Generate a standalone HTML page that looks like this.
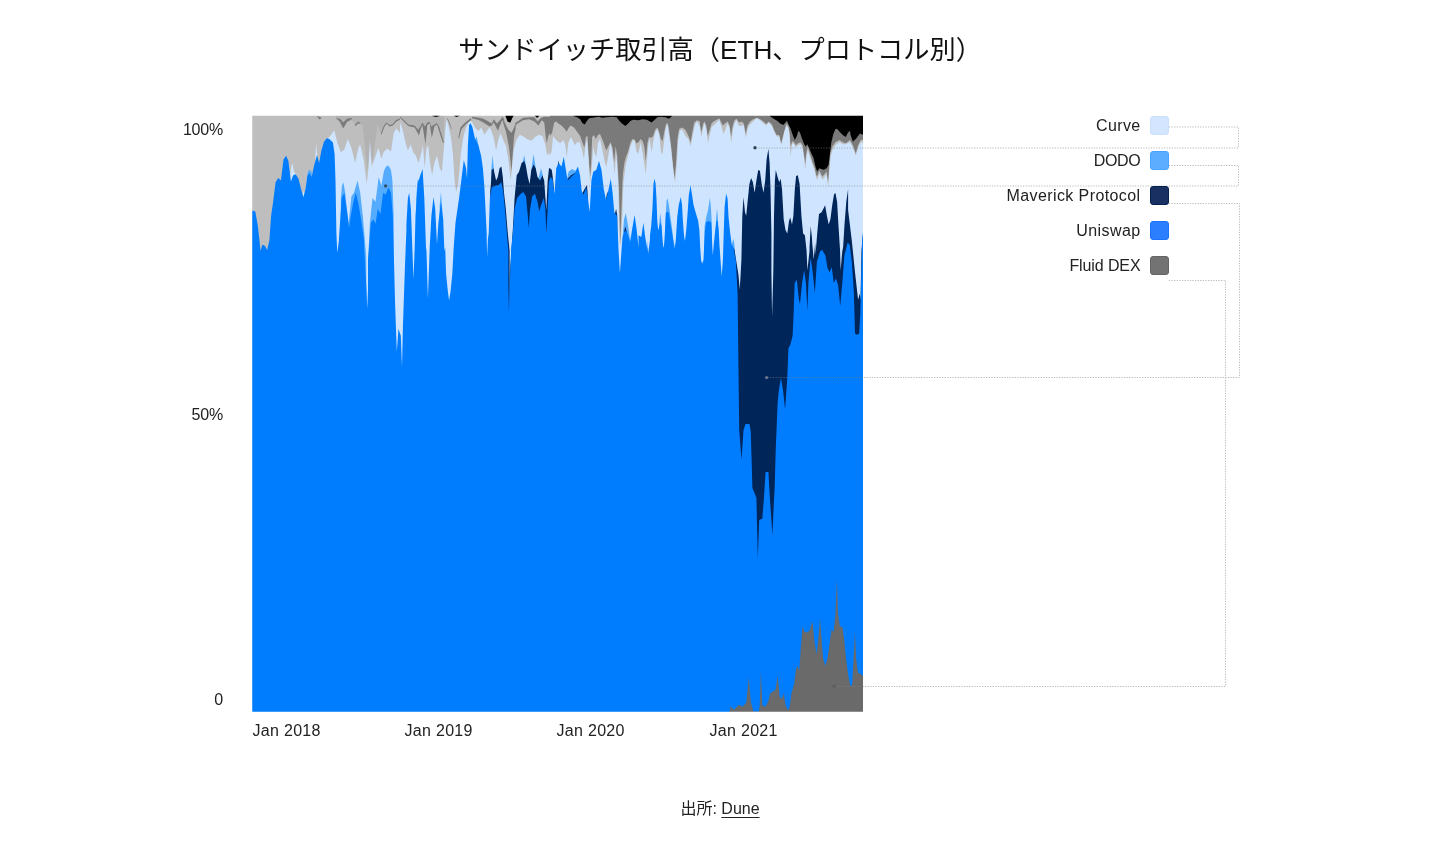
<!DOCTYPE html>
<html lang="ja">
<head>
<meta charset="utf-8">
<title>サンドイッチ取引高（ETH、プロトコル別）</title>
<style>
html,body{margin:0;padding:0;background:#fff;}
body{width:1440px;height:851px;position:relative;overflow:hidden;font-family:"Liberation Sans","Noto Sans CJK JP",sans-serif;color:#1a1a1a;}
.title{position:absolute;left:8px;top:31.5px;width:1424px;text-align:center;font-size:26.2px;line-height:36px;color:#111;white-space:nowrap;}
.ylab{position:absolute;left:150px;width:73px;margin-top:0.5px;letter-spacing:-0.2px;text-align:right;font-size:16px;line-height:20px;color:#222;}
.xlab{position:absolute;top:720.8px;margin-left:0.5px;letter-spacing:0.3px;font-size:16px;line-height:20px;color:#222;white-space:nowrap;}
.leg{position:absolute;left:940.5px;width:200px;margin-top:1.2px;text-align:right;letter-spacing:0.35px;font-size:16px;line-height:20px;color:#222;white-space:nowrap;}
.sw{position:absolute;left:1150px;width:19px;height:19px;border-radius:3px;box-sizing:border-box;border:1px solid;}
.src{position:absolute;left:0;top:799.3px;width:1440px;text-align:center;font-size:16px;line-height:20px;color:#222;}
.src a{color:#222;text-decoration:underline;text-underline-offset:3px;}
svg{position:absolute;left:0;top:0;}
</style>
</head>
<body>
<div class="title">サンドイッチ取引高（ETH、プロトコル別）</div>
<svg width="1440" height="851" viewBox="0 0 1440 851" shape-rendering="auto">
<g>
<rect x="252" y="115" width="611" height="597" fill="#bebebe"/>
<path d="M334.9,115L334.9,116L338.5,119.3L341.7,127.6L343.8,128.7L346.9,122.4L352.1,120.3L355.2,125.5L358.3,122.4L362.5,125.5L364.6,143.2L367.2,170.3L369.8,153.7L372.4,162L375,143.2L377.6,124.5L380.7,133.9L384.4,126.6L387.5,123.5L390.6,126.6L395.8,121.4L400,118.2L400,116.7L404.2,120.3L408.3,124.5L414.6,125.5L418.2,129.7L420.8,125.5L422.4,122.4L425,126.6L427.3,122.4L429.7,121.9L431.2,126.6L434.4,124.5L437,122.9L439.1,126.6L441.7,134.9L443.8,142.2L444.3,118.2L444.3,115Z" fill="#b2b2b2"/>
<path d="M550,115L550,136L552.1,132.8L554.2,122.4L556.2,121.4L558.3,123.5L561.5,125.5L564.6,128.7L566.7,131.8L568.8,127.6L570.8,125.5L574,127.6L577.1,131.8L580.2,136L582.3,142.2L584.4,147.4L585.9,137L587.5,136L588.5,153.7L590.1,176.6L591.1,164.1L592.2,137L593.8,134.9L595.8,139.1L597.9,134.9L600,133.9L603.1,141.2L606.2,150.5L608.3,146.4L610.4,142.2L612.5,147.4L614.1,162L615.6,146.4L617.2,155.8L618.2,174.5L619,187L620.2,244L622.4,182.8L622.9,174.5L624.5,162L626,156.8L628.1,151.6L630.2,143.2L632.3,139.1L634.4,139.6L636.5,143.2L638.5,142.2L640.6,139.1L642.7,141.2L644.3,146.4L645.8,161L647.4,143.2L649,137L651,138L653.1,136L655.2,129.7L657.3,127.6L659.4,132.8L660.9,139.1L662.5,141.2L664.1,132.8L665.6,125.5L667.2,122.4L668.8,127.6L670.8,143.2L672.9,164.1L674.5,178.7L676,164.1L677.6,138L679.2,128.7L682.3,127.6L685.4,129.7L688.5,136L690.6,142.2L692.2,132.8L694.3,122.4L696.9,120.3L700,121.4L700,125.5L701.6,131.8L703.1,123.5L704.7,121.4L706.2,125.5L707.8,136L709.4,130.8L711.5,123.5L713.5,121.4L716.7,119.8L719.3,118.2L720.8,121.4L722.9,125.5L725,123.5L727.6,121.4L729.7,125.5L731,137L732.3,127.6L734.4,120.3L736.5,118.8L739.1,122.4L741.7,121.4L743.8,123.5L745.8,133.9L747.4,125.5L750,121.4L753.1,119.3L756.8,117.7L759.4,118.8L762.5,120.8L766.1,124L768.8,121.4L771.9,124.5L774,129.7L776.6,134.9L779.2,134.9L781.2,143.2L782.8,137L784.4,130.8L786.5,123.5L788.5,126.6L789.6,132.8L790.6,146.4L792.2,141.2L794.3,142.2L795.8,145.3L797.9,143.2L800.5,142.2L802.6,145.3L804.2,155.8L805.2,164.1L806.2,153.7L807.8,146.4L809.9,153.7L812.5,162L814.6,167.2L816.1,174.5L817.2,176.6L819.3,170.3L822.4,176.6L825,173.5L826.6,171.4L828.1,182.8L829.2,166.2L830.2,153.7L832.3,146.4L835.4,142.2L839.6,140.1L842.7,142.2L845.8,143.2L850,140.1L852.9,145.2L855.8,153.5L858.1,145.2L861.1,139.4L863,140.6L863,115Z" fill="#7a7a7a"/>
<path d="M335.9,117.7L340.6,119.3L343.2,122.4L346.9,118.8L351.6,118.0L351.9,119.1L346.9,121.9L343.2,128.2L339.8,121.4L336.5,118.8Z" fill="#7a7a7a"/>
<path d="M354.7,125.0L358.3,121.4L360.2,122.9L360.2,123.7L358.3,123.5L355.4,126.1Z" fill="#7a7a7a"/>
<path d="M380.7,133.9L383.9,125.5L386.5,122.4L389.6,125.0L392.7,124.3L395.8,120.3L400.0,118.5L400.0,119.8L396.4,121.4L392.9,125.5L389.6,126.4L386.7,123.7L384.6,126.6L381.5,134.4Z" fill="#7a7a7a"/>
<path d="M316.7,116.2L319.3,116.7L321.4,117.7L321.4,118.2L319.6,119.5L317.2,116.7Z" fill="#7a7a7a"/>
<path d="M400.0,116.7L404.2,120.3L408.3,124.5L414.6,125.5L418.2,129.7L420.8,125.5L422.4,122.4L425.0,126.6L427.3,122.4L429.7,121.9L431.2,126.6L434.4,124.5L437.0,122.9L439.1,126.6L441.7,134.9L443.8,142.2L443.8,143.2L442.7,142.2L439.6,132.8L437.0,124.5L434.4,126.6L431.8,138.0L429.7,123.5L427.3,125.0L425.5,144.3L422.4,125.0L420.8,128.7L419.0,135.4L414.6,127.6L408.3,126.1L404.2,121.9L400.0,117.7Z" fill="#7a7a7a"/>
<path d="M446.9,118.5L449.0,122.9L451.2,128.7L451.8,129.2L450.0,123.5L447.7,118.5Z" fill="#7a7a7a"/>
<path d="M458.3,138.0L460.4,127.6L464.6,122.9L470.8,118.2L471.4,119.8L465.6,124.5L461.5,129.2L459.0,138.6Z" fill="#7a7a7a"/>
<path d="M471.9,116.7L479.2,117.7L483.3,118.8L488.5,121.4L491.7,123.5L493.8,119.3L496.9,123.5L500.0,120.3L502.6,116.7L504.2,119.3L501.6,121.4L497.9,130.8L493.8,122.4L491.7,125.5L489.6,126.6L483.3,122.4L479.2,120.3L471.9,118.2Z" fill="#7a7a7a"/>
<path d="M503.1,118.2L505.2,123.5L508.3,129.7L511.5,132.8L514.1,127.6L515.6,122.4L515.6,128.7L514.1,136.0L512.7,153.7L511.5,171.9L510.6,162.0L508.9,146.4L506.2,132.8L503.1,122.4Z" fill="#7a7a7a"/>
<path d="M515.6,122.4L517.7,121.4L522.9,117.7L529.2,117.2L534.4,117.2L537.5,121.4L540.6,118.2L543.8,116.7L550.0,116.7L550.0,132.8L548.4,136.0L546.7,143.2L545.3,132.8L544.3,122.4L541.7,120.3L538.5,125.5L534.4,121.4L529.2,119.3L522.9,120.3L517.7,123.5L515.6,125.5Z" fill="#7a7a7a"/>
<path d="M432.3,115L432.3,116L435.9,117L439.6,116L439.6,115Z" fill="#000000"/>
<path d="M453.8,115L453.8,115.8L456.4,117L459.9,115.8L459.9,115Z" fill="#000000"/>
<path d="M505.4,115L505.4,115.8L507.5,121.5L510.2,122.7L512.8,117L513.7,115.8L513.7,115Z" fill="#000000"/>
<path d="M534.9,115L534.9,115.8L537.1,117.9L539.3,115.8L539.3,115Z" fill="#000000"/>
<path d="M573.4,115L573.4,116L577.1,117.2L580.2,119.3L582.3,122.9L584.9,124.5L586.5,121.4L589.1,118.2L595.8,117.2L599,116.7L602.1,117.7L606.2,117.2L612.5,116.7L616.7,117.2L618.8,120.3L621.9,123.5L625.5,126.1L628.1,123.5L630.7,120.8L633.3,119.8L638.5,120.3L642.7,119.3L646.9,119.8L651.6,122.4L654.2,120.3L657.3,117.2L660.4,116.7L665.6,117.2L668.8,118.8L671.4,116.7L671.9,116L671.9,115Z" fill="#000000"/>
<path d="M769.8,115L769.8,116L772.9,118.2L777.1,120.8L780.2,123.5L783.3,125L785.4,122.4L787,120.8L788.5,124.5L790.6,128.7L792.7,134.9L794.8,140.1L796.9,136L798.4,130.8L800,132.8L802.1,139.1L804.2,144.3L805.7,146.4L807.3,144.3L808.9,147.4L811.5,153.7L813.5,157.8L815.6,167.2L817.2,171.4L819.3,168.2L821.9,169.3L824,169.8L826.6,168.2L828.6,165.1L829.7,155.8L831.2,143.2L833.3,133.9L835.4,129.2L837,128.7L839.6,131.8L842.7,134.9L845.8,137L847.9,132.8L850,130.8L850.5,134.7L852.9,141.7L856.4,138.2L859.9,133.5L863,134.7L863,115Z" fill="#000000"/>
<path d="M289.7,712L289.7,184L290.9,168.2L292.3,162.9L294.1,171.7L296.7,175.2L296.7,712Z" fill="#cfe5ff"/>
<path d="M302,712L302,198.1L303.2,191.1L304.6,192.8L304.6,712Z" fill="#cfe5ff"/>
<path d="M314.9,712L314.9,164.6L316.1,143.5L317.3,154.9L317.3,712Z" fill="#cfe5ff"/>
<path d="M327.6,712L327.6,139.1L331.1,134.7L334.3,130.3L337.3,142.6L340.8,152.3L344.3,149.7L347.8,139.1L351.4,147.9L355.2,162.9L358.4,147.9L360.2,144.4L363.7,159.4L366.7,184L368.5,168.2L369.9,140L371.6,166.4L375.1,157.6L378.3,147.9L381.3,158.5L384,151.4L387.5,148.8L391,151.4L393.7,132.9L396.3,128.5L400,132.9L400,122.3L402.6,129.4L405.3,141.7L407.9,150.5L410.6,144.4L413.2,152.3L415.9,155.8L418.5,162.9L421.1,154.1L422.9,145.2L424.7,168.2L426.4,148.8L428.2,145.2L430,162.9L432.1,175.2L434.4,162.9L437,155.8L439.7,168.2L441.9,171.7L444.1,145.2L445.5,127.6L446.7,118.8L448.5,125.9L451.1,138.2L452.9,154.1L454.6,180.5L456.1,192L458.2,184L460.8,154.1L463.5,136.4L466.1,127.6L468.8,122.3L470.5,120.9L472.3,122.3L474.9,127.6L478.4,131.2L481.1,127.6L484.6,134.7L487.3,130.3L489.9,127.6L493.4,136.4L496.1,150.5L497.8,141.7L500.5,132.9L503.1,140L505.8,145.2L508.4,159.4L510.7,180.5L511.9,168.2L513.7,150.5L516.3,140L519.9,134.7L523.4,136.4L526.9,139.1L531.3,140.8L535.7,136.4L539.3,134.7L542.8,136.4L545.4,145.2L547.2,155.8L549,152.3L550,155.8L551.6,151.6L553.1,136L555.2,139.1L557.3,141.2L560.4,143.2L563.5,140.1L565.6,146.4L566.7,157.8L568.2,143.2L570.8,137L572.9,141.2L575,145.3L577.1,142.2L579.7,142.2L582.3,151.6L583.9,158.9L585.4,146.4L587,139.1L588.5,158.9L590.1,182.8L591.7,168.2L593.2,146.4L594.8,153.7L596.4,156.8L597.9,143.2L600,139.1L602.1,148.5L604.2,158.9L606.2,167.2L608.3,155.8L610.4,143.2L612.5,153.7L614.6,174.5L616.1,153.7L617.2,166.2L618.2,184.9L619.6,242.2L620.5,245.7L622.3,215.8L623.4,182.8L624,178.7L625.5,166.2L627.6,157.8L630.2,147.4L632.3,141.2L634.4,140.1L636.5,151.6L638.5,153.7L640.6,142.2L642.7,153.7L644.3,164.1L645.8,174.5L647.9,148.5L649.5,138L651.6,152.6L653.1,142.2L655.2,132.8L657.3,128.7L659.4,136L660.9,151.6L662.5,154.7L664.1,141.2L665.6,129.7L667.2,123.5L668.8,133.9L670.8,146.4L672.9,167.2L675,182.8L676.6,166.2L678.1,141.2L679.7,130.8L682.3,129.7L685.4,136L688.5,139.1L690.6,146.4L692.7,136L694.8,125.5L696.9,121.4L700,126.6L700,129.7L701.6,137L703.1,127.6L704.7,123.5L706.2,128.7L708.1,143.2L709.9,133.9L711.5,127.6L713.5,125.5L716.7,122.4L719.3,119.8L720.8,124.5L723.4,133.9L725.5,129.7L727.6,123.5L729.7,128.7L731.2,143.2L732.8,130.8L734.4,123.5L736.5,120.3L739.1,126.6L741.7,125.5L743.8,125.5L745.8,138L747.7,128.7L750,124.5L753.1,121.4L756.8,118.2L759.4,119.8L762.5,122.4L766.1,125.5L768.8,122.4L771.9,126.1L774,131.3L776.6,136.5L779.2,136.5L781.2,145.3L782.8,139.1L784.4,131.8L786.5,125.5L788.5,128.7L789.6,136L790.6,156.8L792.2,143.2L794.3,144.3L795.8,147.4L797.9,145.3L800.5,144.3L802.6,148.5L804.2,158.9L805.2,170.3L806.5,156.8L807.8,150.5L809.9,156.8L812.5,165.1L814.6,170.3L816.1,177.6L817.2,179.7L819.3,173.5L822.4,179.7L825,176.6L826.6,174.5L828.1,187L829.4,170.3L830.7,156.8L832.3,150.5L835.4,145.3L839.6,142.2L842.7,144.3L845.8,144.3L850,142.2L852.9,147.6L855.8,155.8L858.1,147.6L861.1,141.7L863,142.9L863,712Z" fill="#cfe5ff"/>
<path d="M306.8,712L306.8,177L308.2,170.8L310.8,169.9L312.6,175.2L312.6,712Z" fill="#55acff"/>
<path d="M340.8,712L340.8,198.1L342,185.8L343.4,182.3L345.2,192.8L346.9,208.7L348.7,222.8L351.4,196.4L354,192.8L357.5,180.5L360.2,192.8L362.8,215.8L365.5,247.5L366.3,260L366.3,712Z" fill="#55acff"/>
<path d="M368.1,712L368.1,260L369.9,222.8L372.5,198.1L375.5,201.7L378.7,177L381.3,185.8L384,170.8L386.1,166.4L388.4,165.5L391,169.9L392.4,180.5L393.7,215.8L393.7,712Z" fill="#55acff"/>
<path d="M416.2,712L416.2,198.1L417.6,179.6L419.4,180.5L419.4,712Z" fill="#55acff"/>
<path d="M439.7,712L439.7,205.2L440.9,192L442.3,208.7L442.3,712Z" fill="#55acff"/>
<path d="M474.9,712L474.9,140L476.7,136.4L478.4,145.2L478.4,712Z" fill="#55acff"/>
<path d="M491.3,712L491.3,169.9L492.5,154.9L493.8,168.2L493.8,712Z" fill="#55acff"/>
<path d="M522.5,712L522.5,162.9L524.3,154.9L526,166.4L526,712Z" fill="#55acff"/>
<path d="M531.3,712L531.3,169.9L533.6,154.1L535.7,168.2L535.7,712Z" fill="#55acff"/>
<path d="M538.4,712L538.4,178.8L541,168.2L542.8,175.2L542.8,712Z" fill="#55acff"/>
<path d="M566.8,712L566.8,180.5L568.5,171.7L572,169.1L575.6,170.8L577.3,168.2L577.3,712Z" fill="#55acff"/>
<path d="M622.6,712L622.6,236.9L624,219.3L625.8,213.1L627.6,222.8L630.2,240.4L631.4,233.4L631.4,712Z" fill="#55acff"/>
<path d="M665.5,712L665.5,218.8L665.9,211.7L666.5,201.1L667.6,198.2L668.8,204.7L670,212.9L671.7,225.8L673.5,239.9L674.9,247L674.9,712Z" fill="#55acff"/>
<path d="M658.9,712L658.9,230.5L659.4,221.1L660.3,212.9L661.3,221.1L661.8,230.5L661.8,712Z" fill="#55acff"/>
<path d="M704.3,712L704.3,235.2L704.6,225.8L706.4,216.4L708.2,209.3L709.9,197.6L710.9,207L711.7,221.1L712,235.2L712,712Z" fill="#55acff"/>
<path d="M715.8,712L715.8,225.8L716.2,216.4L717,208.2L717.8,216.4L718.4,228.2L718.4,712Z" fill="#55acff"/>
<path d="M731.1,712L731.1,247L732,243.4L733.4,238.7L734.4,244.6L735.1,254L735.1,712Z" fill="#55acff"/>
<path d="M490.2,712L490.2,191.1L490.8,185.8L491.7,169.9L493.4,168.2L496.1,180.5L497.8,177L499.6,168.2L501.4,166.4L502.8,177L504,192.8L505.8,208.7L507.5,229.9L509.6,251L509.6,274.1L509.6,312.9L509.9,274.1L512.8,229.9L514.6,198.1L516.7,175.2L519,171.7L521.6,162.9L524.3,161.1L526,166.4L527.8,177L529.6,184L531.3,169.9L533.6,164.6L535.7,168.2L537.5,177L540.1,180.5L542.4,175.2L544.2,180.5L545.4,198.1L546.3,210.5L547.7,180.5L549,168.2L550,168.2L550,168.2L551.8,169.9L553.2,180.5L554.4,194.6L554.4,712Z" fill="#002559"/>
<path d="M557.4,712L557.4,168.2L558.5,160.2L559.5,168.2L559.5,712Z" fill="#002559"/>
<path d="M566.8,712L566.8,184L567.6,178.8L571.1,175.2L575.6,172.6L576.4,177L576.4,712Z" fill="#002559"/>
<path d="M581.7,712L581.7,194.6L584.4,189.3L587,184.9L587.9,198.1L587.9,712Z" fill="#002559"/>
<path d="M605.5,712L605.5,201.7L606.8,194.6L608.2,191.1L608.2,712Z" fill="#002559"/>
<path d="M614.9,712L614.9,214L616.1,208.7L617.3,215.8L617.3,712Z" fill="#002559"/>
<path d="M624,712L624,231.6L625.5,226.3L626.9,233.4L626.9,712Z" fill="#002559"/>
<path d="M732.6,712L732.6,247.5L734.4,249.3L736.1,260L738.5,275L739.7,289.5L740.6,275L741.4,260L742.3,215.8L743.5,197.3L745,212.2L746.2,215.8L747.6,201.7L749.4,184L751.1,177.9L752.9,182.3L754.6,192.8L756.4,180.5L758.2,169.9L759.9,170.8L761.7,184L763.5,192.8L765.2,180.5L766.6,159.4L768.4,148.8L769.6,162.9L770.5,189.3L771.4,233.4L771.4,272.3L772.1,316.7L773.3,272.3L774,215.8L774.9,180.5L775.8,169.9L777.6,177L779.3,182.3L780.7,178.8L782,189.3L783.7,219.3L785.5,229.9L787.3,233.4L789,221.1L790.2,217.5L792,224.6L793.4,215.8L794.8,189.3L796.1,176.1L797.8,175.2L799.6,184L801.4,215.8L803.1,233.4L804.9,235.2L806.6,251L806.6,251.2L807.4,270.2L809.5,251.2L809.5,247.5L810.7,226.3L811.9,236.9L812.2,242.7L813.7,259.6L815.2,242.7L815.5,254.5L817.2,233.4L819,214L821.6,212.2L823.4,208.7L825.1,205.2L826.9,215.8L828.7,224.6L830.4,219.3L832.2,205.2L834,194.6L835.4,192.8L837.1,201.7L838.4,224.6L840.1,251L840.1,251.2L840.6,270.2L842.3,251.2L843.1,247.5L844.5,224.6L846.3,201.7L848.1,189.3L848.1,186.4L848.1,174.6L848.1,178.2L848.1,210L851.8,240.6L855,272.3L858.1,299.8L859.8,293.4L860.5,300L861.5,250L863,233L863,712Z" fill="#002559"/>
<path d="M252,712L252,210.5L255.3,211.4L257.9,226.3L260.6,251L262.3,244.8L265,245.7L267.1,250.1L269.4,240.4L271.1,215.8L272.9,203.4L275.6,182.3L278.2,177.9L280.9,180.5L283.5,159.4L286.1,155.8L288.4,161.1L290.9,181.4L293.2,175.2L295.8,174.3L298.5,178.8L301.1,189.3L303.4,197.3L305.5,189.3L307.3,177L309.1,172.6L311.7,177L314.3,164.6L317,154.9L319.1,162.9L321.4,150.5L324,141.7L326.7,138.2L329.3,139.1L332.9,142.6L334.6,154.1L335.5,180.5L336.4,233.4L337.3,252.8L338.7,242.2L339.9,224.6L341.7,198.1L344.3,192.8L346.6,208.7L349.1,228.1L350.8,215.8L353.1,203.4L355.8,192.8L358.4,203.4L361.1,219.3L363.7,236.9L364.9,260L366.5,290L367.2,309L368,290L368,260L369,247.5L370.8,222.8L373.4,219.3L375.5,223.7L377.8,208.7L380.4,214L383.1,192.8L385.7,194.6L388.4,187.6L391,192.8L392.8,215.8L393.7,251L394.1,265.2L395,300.5L395.9,326.9L396.8,351.6L398.5,328.7L400.8,335.8L402,367.5L402.9,326.9L403.8,300.5L405,265.2L406.4,230L406.4,224.6L407.9,198.1L409.2,192.8L410.9,208.7L412.3,247.5L412.3,247.6L413.5,279.4L414.7,247.6L415.5,215.8L417.6,184L420.3,175.2L422.6,169.1L424.3,198.1L426.1,251L426.4,247.6L427.9,298.8L429.7,247.6L431.4,215.8L433.5,197.3L435.2,208.7L437,244L438.4,222.8L440.9,201.7L443.2,219.3L444.4,251L445.2,247.6L446.1,274.1L447.9,291.7L449.1,300.5L450.5,291.7L452.3,274.1L453.7,247.6L455.5,222.8L459.1,198.1L461.7,177L463.8,160.2L466.1,168.2L467,178.8L467.9,145.2L469.1,125L470.5,123.2L472.3,126.8L474.9,138.2L478.4,145.2L481.1,155.8L482.9,168.2L484.3,185.8L485.5,208.7L486.7,233.4L486.7,238.8L487.2,257.3L487.9,238.8L488.7,233.4L489.9,198.1L491.7,187.6L495.2,185.8L498.7,184.9L501.4,182.3L503.1,191.1L504.9,208.7L506.6,229.9L508.4,251L508.4,247.6L508.4,282.9L508.9,312.9L509.7,282.9L511.3,247.6L512.8,233.4L514.6,208.7L517.2,198.1L520.8,193.7L523.4,192L526,196.4L527.8,215.8L528.7,228.1L530.1,208.7L532.2,196.4L534.9,193.7L537.5,201.7L539.3,211.4L541,205.2L543.7,198.1L545.4,208.7L546.3,233.4L547.7,208.7L549,180.5L550,179.6L550,177L552.6,178.8L554.4,194.6L556.2,168.2L558.8,162.9L561.5,166.4L563.8,156.7L565.9,169.9L567.6,180.5L571.1,177L574.7,173.5L577.9,166.4L580,175.2L581.7,191.1L583.5,194.6L586.1,187.6L587.9,198.1L589.7,212.2L591.4,180.5L593.2,171.7L596.2,169.9L599,161.1L601.5,169.9L603.8,189.3L606,199.9L608.2,191.1L610.8,178.8L612.6,192.8L614.3,212.2L617,215.8L618.4,245.7L618.4,247.6L619.9,273.2L621.7,247.6L622.6,236.9L624.9,229.9L627.6,233.4L630.2,242.2L632,229.9L634.6,214.9L636.7,229.9L638.5,247.5L638.5,235.3L638.5,242.3L638.5,235.3L641.3,236.9L643.4,222.8L645.2,236.9L647.3,249.3L647.3,247.6L647.3,262.6L647.3,247.6L647.3,240.6L648.1,253.8L649.9,240.6L650,235.2L651.2,225.8L652.4,209.3L653.5,183.5L654.5,178.8L655.6,183.5L656.5,198.8L657.3,221.1L658.2,230.5L659.4,225.8L660.3,222.3L661.5,225.8L662.3,236.4L663.2,247L663.6,247.6L664.3,242.3L665,230.5L665.9,212.9L667.6,211.7L668.8,212.9L670,221.1L671.7,230.5L673.5,242.3L674.4,249.3L674.4,249L675.6,242.3L676.1,235.2L677.3,216.4L678.8,204.7L680.8,197L682,204.7L682.9,221.1L684.1,236.4L685,241.1L686.2,230.5L687.6,212.9L688.8,195.2L690.5,185.3L692.1,195.2L693.5,204.7L695.8,212.9L698.2,221.1L699.4,230.5L700.3,249.3L701.1,260L702.1,263.8L703.5,260L704.3,242.3L705,230.5L706.2,222.3L708.8,221.1L711.1,222.3L711.7,230.5L712.3,247L712.8,255.4L713.5,247L714,242.3L715.2,230.5L716.4,221.1L717.6,220.5L718.7,230.5L719.6,247L720.5,260L721.7,276.5L722.9,260L723.8,230.5L724.6,207L726.1,193.5L727.6,198.8L728.5,216.4L729.9,230.5L731.7,244.6L733.4,247L734.6,254L735.8,260L737.6,293.4L738.6,380L739.2,430L741.5,460L743.5,430L745.5,424L749.5,424L750.8,432L752.4,488L756.4,497.5L757.8,558.6L759.2,520L762.3,518.7L763.8,500L765.6,472L768.4,472L770,500L772.4,535L774.7,485.7L775.7,450.5L777.6,403.5L778.8,390.7L780.9,378L783.1,390.7L785.1,409.4L787.3,378L788.4,348.4L790.5,344.2L792.6,335.8L793.6,314.6L794.7,282.9L796.8,279.7L798.9,299.8L800,304L802.1,282.9L804.2,270.2L805.9,282.9L807.4,310.4L808.4,282.9L810.6,257.5L812.7,272.3L814.8,293.5L816.9,261.7L820.1,251.2L822.2,250.1L825.4,255.4L827.5,268.1L829.6,272.3L831.7,267L833.8,282.9L835.9,278.6L838.1,285L840.2,306.1L842.3,282.9L844.4,255.4L847.6,242.7L849.7,244.8L851.8,261.7L853.9,293.5L855,333.6L857.1,334.7L859.2,333.6L860.3,314.6L861.3,272.3L862.2,240L863,233L863,712Z" fill="#007dff"/>
<path d="M729.7,712L729.7,711.5L730.6,706.6L734.1,710.1L738.5,704.9L742.9,706.6L746.4,702.2L748.7,677.5L750.9,702.2L753.5,711.5L758.8,711.5L759.7,705.7L760.9,670.5L762.3,705.7L765.8,706.6L768.5,700.4L770.2,693.4L772.9,691.6L775.5,689.9L777.8,675.8L779.6,696.9L781.7,698.7L783.8,693.4L785.6,705.7L787.9,710.1L789.6,707.5L791.4,693.4L794,684.6L796.1,668.7L797.6,666.1L799.3,670.5L800.7,649.3L802.5,626.4L804.6,631.7L807.3,632.6L809.9,629.9L812.5,621.1L814.3,640.5L816.6,654.6L818.4,637L820,618.5L821.4,637L823.1,658.1L825.4,666.1L827.5,658.1L829.6,644L831.4,629.9L833.7,631.7L835.5,614.1L836.9,578.8L838.1,614.1L839.9,626.4L842.5,627.3L844.3,640.5L846,658.1L848.3,675.8L850.4,686.3L852.2,684.6L853.6,658.1L854.9,631.7L856.1,658.1L857.9,672.2L860.1,674L863,675.8L863,712Z" fill="#6a6a6a"/>
<path d="M250,113H865V115.65H250Z M250,711.85H865V714H250Z M250,113H252.25V714H250Z" fill="#fff"/>
</g>
<g fill="none" stroke="#808080" stroke-opacity="0.55" stroke-width="1" stroke-dasharray="1.2 1.4">
<path d="M1169,127H1238.5V148H755"/>
<path d="M1169,165.5H1238.5V186H386"/>
<path d="M1169,203.5H1239.5V377.5H767"/>
<path d="M1169,280.5H1225.5V686.5H834"/>
</g>
<g>
<circle cx="755" cy="147.8" r="1.7" fill="#33455a"/>
<circle cx="385.6" cy="185.9" r="1.7" fill="#33506e"/>
<circle cx="766.6" cy="377.6" r="1.7" fill="#62738a"/>
<circle cx="834.2" cy="686.3" r="1.7" fill="#5e5e5e"/>
</g>
</svg>
<div class="ylab" style="top:119px">100%</div>
<div class="ylab" style="top:404px">50%</div>
<div class="ylab" style="top:689px">0</div>
<div class="xlab" style="left:252px">Jan 2018</div>
<div class="xlab" style="left:404px">Jan 2019</div>
<div class="xlab" style="left:556px">Jan 2020</div>
<div class="xlab" style="left:709px">Jan 2021</div>
<div class="leg" style="top:115px">Curve</div><div class="sw" style="top:116px;background:#d3e5ff;border-color:#cbe0ff"></div>
<div class="leg" style="top:150px;letter-spacing:-0.3px">DODO</div><div class="sw" style="top:151px;background:#5cadff;border-color:#4aa3ff"></div>
<div class="leg" style="top:185px;letter-spacing:0.4px">Maverick Protocol</div><div class="sw" style="top:186px;background:#183162;border-color:#07214f"></div>
<div class="leg" style="top:220px;letter-spacing:0.4px">Uniswap</div><div class="sw" style="top:221px;background:#2b7fff;border-color:#1a72ff"></div>
<div class="leg" style="top:255px;letter-spacing:-0.1px">Fluid DEX</div><div class="sw" style="top:256px;background:#737373;border-color:#646464"></div>
<div class="src">出所: <a>Dune</a></div>
</body>
</html>
